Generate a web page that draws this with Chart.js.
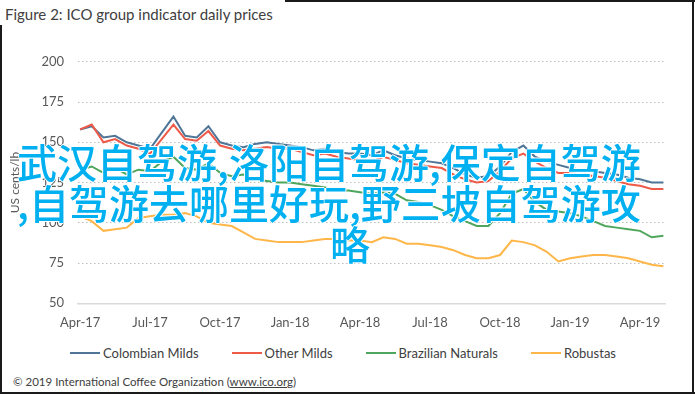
<!DOCTYPE html>
<html>
<head>
<meta charset="utf-8">
<script src="https://cdn.jsdelivr.net/npm/chart.js@4.4.1/dist/chart.umd.min.js"></script>
<style>
  body { margin: 0; width: 695px; height: 394px; overflow: hidden; background: #fff; position: relative; font-family: Lato, sans-serif; }
  .edge { position: absolute; background: #1a1a1a; z-index: 5; }
  #title { position: absolute; left: 5px; top: 5px; font-size: 15px; color: #404040; white-space: nowrap; }
  #chart { position: absolute; left: 0; top: 40px; }
  #legend { position: absolute; left: 70px; top: 345px; display: flex; font-size: 13px; color: #404040; white-space: nowrap; }
  #legend .item { display: flex; align-items: center; margin-right: 33px; }
  #legend .swatch { display: inline-block; width: 30px; height: 2px; margin-right: 3px; }
  #footer { position: absolute; left: 13px; top: 375px; font-size: 11.5px; color: #404040; white-space: nowrap; }
  #footer u { text-decoration: underline; }
  #overlay { position: absolute; left: 17px; top: 141px; font-family: "Noto Sans CJK SC", sans-serif; font-weight: 500; font-size: 40px; line-height: 41px; color: #00b0f0; white-space: nowrap; z-index: 4;
    text-shadow: 1px 0 0 #fff, -1px 0 0 #fff, 0 1px 0 #fff, 0 -1px 0 #fff; }
</style>
</head>
<body>
<div class="edge" style="left:0;top:25px;width:2px;height:369px"></div>
<div class="edge" style="left:285px;top:0;width:410px;height:2px"></div>
<div class="edge" style="left:692px;top:0;width:2px;height:394px"></div>
<div class="edge" style="left:0;top:392px;width:695px;height:2px"></div>
<div id="title">Figure 2: ICO group indicator daily prices</div>
<canvas id="chart" width="690" height="300"></canvas>
<div id="legend"></div>
<div id="footer">© 2019 International Coffee Organization (<u>www.ico.org</u>)</div>
<div id="overlay">武汉自驾游,洛阳自驾游,保定自驾游<br>,自驾游去哪里好玩,野三坡自驾游攻<br><span style="padding-left:313px">略</span></div>
<script>
// months since Apr-17 (half-month steps)
const months = [0, 0.5, 1, 1.5, 2, 2.5, 3, 3.5, 4, 4.5, 5, 5.5, 6, 6.5, 7, 7.5, 8, 8.5, 9, 9.5,
  10, 10.5, 11, 11.5, 12, 12.5, 13, 13.5, 14, 14.5, 15, 15.5, 16, 16.5, 17, 17.5, 18, 18.5, 19, 19.5,
  20, 20.5, 21, 21.5, 22, 22.5, 23, 23.5, 24, 24.5, 25];

const tickMonths = [0, 3, 6, 9, 12, 15, 18, 21, 24];
const tickLabels = ['Apr-17', 'Jul-17', 'Oct-17', 'Jan-18', 'Apr-18', 'Jul-18', 'Oct-18', 'Jan-19', 'Apr-19'];
const yTicks = [50, 75, 100, 125, 150, 175, 200];

const seriesNames = ['Colombian Milds', 'Other Milds', 'Brazilian Naturals', 'Robustas'];
const seriesColors = ['#4f7597', '#ef5a48', '#4ea65c', '#ffb649'];

const colombianMilds = [158, 160, 153, 154, 150, 148, 146, 156, 166, 154,
  153, 160, 150, 148, 147, 149, 150, 149, 148, 147,
  145, 146, 144, 143, 143, 142, 145, 142, 140, 139,
  138, 137, 134, 130, 128, 129, 135, 144, 148, 141,
  138, 136, 134, 133, 132, 131, 130, 128, 127, 125, 125];
const otherMilds = [158, 161, 150, 152, 148, 146, 143, 152, 161, 152,
  151, 157, 148, 146, 145, 146, 147, 146, 146, 144,
  142, 143, 141, 140, 139, 138, 141, 139, 137, 136,
  135, 134, 130, 127, 125, 126, 132, 140, 143, 138,
  134, 131, 131, 130, 129, 128, 126, 124, 123, 121, 121];
const brazilianNaturals = [133, 135, 131, 134, 130, 133, 132, 138, 141, 134,
  133, 137, 131, 129, 130, 127, 126, 125, 125, 124,
  123, 122, 120, 120, 119, 118, 119, 118, 114, 113,
  111, 108, 104, 101, 98, 98, 106, 118, 121, 113,
  108, 107, 106, 104, 101, 98, 97, 96, 95, 91, 92];
const robustas = [104, 101, 95, 96, 97, 103, 104, 105, 105, 106,
  104, 100, 99, 98, 94, 90, 89, 88, 88, 88,
  89, 90, 90, 89, 89, 88, 91, 90, 87, 87,
  86, 85, 83, 80, 78, 78, 80, 89, 88, 86,
  82, 76, 78, 79, 80, 80, 79, 78, 76, 74, 73];

const seriesValues = [colombianMilds, otherMilds, brazilianNaturals, robustas];

let legend = document.getElementById('legend');
seriesNames.forEach((name, i) => {
  let item = document.createElement('div');
  item.className = 'item';
  item.innerHTML = '<span class="swatch" style="background:' + seriesColors[i] + '"></span>' + name;
  legend.appendChild(item);
});

const tickFont = { family: 'Lato', size: 13 };

const chart = new Chart(document.getElementById('chart').getContext('2d'), {
  type: 'line',
  data: {
    datasets: seriesNames.map((name, i) => ({
      label: name,
      data: months.map((m, j) => ({ x: m, y: seriesValues[i][j] })),
      borderColor: seriesColors[i],
      backgroundColor: seriesColors[i],
      borderWidth: 2,
      pointRadius: 0,
      tension: 0,
      order: 4 - i
    }))
  },
  options: {
    responsive: false,
    animation: false,
    layout: { padding: { top: 10.7, right: 25, left: 0, bottom: 0 } },
    plugins: { legend: { display: false }, tooltip: { enabled: false } },
    scales: {
      x: {
        type: 'linear',
        min: -0.09,
        max: 25.07,
        grid: { display: false, drawTicks: false },
        border: { display: true, color: '#d9d9d9', width: 1.5 },
        afterBuildTicks: s => { s.ticks = tickMonths.map(v => ({ value: v })); },
        afterFit: s => { s.height = 36.7; },
        ticks: {
          autoSkip: false,
          maxRotation: 0,
          padding: 12,
          color: '#595959',
          font: tickFont,
          callback: v => tickLabels[tickMonths.indexOf(v)]
        }
      },
      y: {
        min: 50,
        max: 200,
        afterBuildTicks: s => { s.ticks = yTicks.map(v => ({ value: v })); },
        afterFit: s => { s.width = 78; },
        grid: { color: '#bdbdbd', lineWidth: 1, drawTicks: false },
        border: { display: false, dash: [1.5, 2.5] },
        ticks: { padding: 14, color: '#595959', font: tickFont },
        title: {
          display: true,
          text: 'US cents/lb',
          color: '#595959',
          font: { family: 'Lato', size: 12 },
          padding: { top: 8, bottom: 0 }
        }
      }
    }
  }
});
</script>
</body>
</html>
